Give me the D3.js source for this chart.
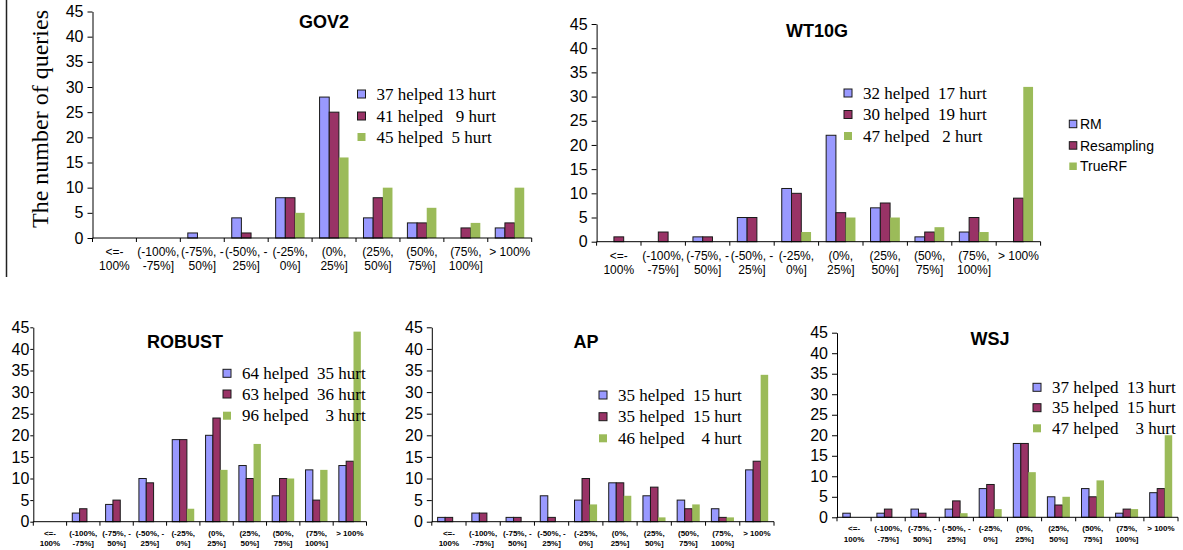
<!DOCTYPE html>
<html>
<head>
  <meta charset="UTF-8">
  <style>
    body {
      margin: 0;
      padding: 0;
      background-color: #ffffff;
      font-family: Arial, "Liberation Sans", sans-serif;
    }
    svg { display: block; }
    .tick text { font-family: Arial, "Liberation Sans", sans-serif; fill: #000; }
    text.serif { font-family: "Liberation Serif", "Times New Roman", serif; }
  </style>
</head>
<body>
<svg id="chart"></svg>
<script src="https://d3js.org/d3.v7.min.js"></script>
<script>
let width = 1183, height = 550;

// Data
let categories = ["<=-100%", "(-100%,-75%]", "(-75%,-50%]", "(-50%,-25%]", "(-25%,0%]",
                  "(0%,25%]", "(25%,50%]", "(50%,75%]", "(75%,100%]", "> 100%"];
let categoryLines = [["<=-", "100%"], ["(-100%,", "-75%]"], ["(-75%, -", "50%]"], ["(-50%, -", "25%]"],
                     ["(-25%,", "0%]"], ["(0%,", "25%]"], ["(25%,", "50%]"], ["(50%,", "75%]"],
                     ["(75%,", "100%]"], ["> 100%", ""]];
let seriesNames = ["RM", "Resampling", "TrueRF"];
let yTicks = [0, 5, 10, 15, 20, 25, 30, 35, 40, 45];

let gov2RM     = [0, 0, 1, 4, 8, 28, 4, 3, 0, 2];
let gov2Res    = [0, 0, 0, 1, 8, 25, 8, 3, 2, 3];
let gov2True   = [0, 0, 0, 0, 5, 16, 10, 6, 3, 10];
let gov2Legend = ["37 helped 13 hurt", "41 helped   9 hurt", "45 helped  5 hurt"];

let wt10gRM     = [0, 0, 1, 5, 11, 22, 7, 1, 2, 0];
let wt10gRes    = [1, 2, 1, 5, 10, 6, 8, 2, 5, 9];
let wt10gTrue   = [0, 0, 0, 0, 2, 5, 5, 3, 2, 32];
let wt10gLegend = ["32 helped  17 hurt", "30 helped  19 hurt", "47 helped   2 hurt"];

let robustRM     = [0, 2, 4, 10, 19, 20, 13, 6, 12, 13];
let robustRes    = [0, 3, 5, 9, 19, 24, 10, 10, 5, 14];
let robustTrue   = [0, 0, 0, 0, 3, 12, 18, 10, 12, 44];
let robustLegend = ["64 helped  35 hurt", "63 helped  36 hurt", "96 helped    3 hurt"];

let apRM     = [1, 2, 1, 6, 5, 9, 6, 5, 3, 12];
let apRes    = [1, 2, 1, 1, 10, 9, 8, 3, 1, 14];
let apTrue   = [0, 0, 0, 0, 4, 6, 1, 4, 1, 34];
let apLegend = ["35 helped  15 hurt", "35 helped  15 hurt", "46 helped    4 hurt"];

let wsjRM     = [1, 1, 2, 2, 7, 18, 5, 7, 1, 6];
let wsjRes    = [0, 2, 1, 4, 8, 18, 3, 5, 2, 7];
let wsjTrue   = [0, 0, 0, 1, 2, 11, 5, 9, 2, 20];
let wsjLegend = ["37 helped  13 hurt", "35 helped  15 hurt", "47 helped    3 hurt"];

let colors = ["#9999ff", "#993366", "#9bbb59"];
let strokes = ["#1a1a1a", "#1a1a1a", "none"];

// Panel layout
let panels = [
  { title: "GOV2", series: [gov2RM, gov2Res, gov2True], legend: gov2Legend,
    x0: 92.5, x1: 531.7, y0: 238, y45: 11.5, tx: 324, ty: 28,
    lx: 357.5, ly: [94, 116, 137], big: true },
  { title: "WT10G", series: [wt10gRM, wt10gRes, wt10gTrue], legend: wt10gLegend,
    x0: 596.6, x1: 1040.6, y0: 241.7, y45: 24, tx: 817, ty: 36.5,
    lx: 844, ly: [93, 114.5, 136], big: true },
  { title: "ROBUST", series: [robustRM, robustRes, robustTrue], legend: robustLegend,
    x0: 33.3, x1: 366.5, y0: 521.7, y45: 327.3, tx: 185, ty: 348,
    lx: 223, ly: [373.3, 394, 415.7], big: false, tickSize: 3, tickPad: 1 },
  { title: "AP", series: [apRM, apRes, apTrue], legend: apLegend,
    x0: 431.8, x1: 774, y0: 521.7, y45: 327.3, tx: 586, ty: 348,
    lx: 599, ly: [395, 416.7, 438.3], big: false },
  { title: "WSJ", series: [wsjRM, wsjRes, wsjTrue], legend: wsjLegend,
    x0: 837, x1: 1178, y0: 517.3, y45: 332.7, tx: 990, ty: 345,
    lx: 1033, ly: [387.3, 407.7, 428.3], big: false }
];

let svg = d3.select("#chart")
    .attr("width", width)
    .attr("height", height);

svg.append("rect").attr("width", width).attr("height", height).attr("fill", "#fff");

// left border line and y label of the first panel
svg.append("line")
    .attr("x1", 6.5).attr("x2", 6.5)
    .attr("y1", 0).attr("y2", 277)
    .attr("stroke", "#222").attr("stroke-width", 1.5);

svg.append("text")
    .attr("class", "serif")
    .attr("transform", "translate(48,119) rotate(-90)")
    .attr("text-anchor", "middle")
    .style("font-size", "24px")
    .text("The number of queries");

panels.forEach(p => {
    let g = svg.append("g");

    let x = d3.scaleBand()
        .domain(categories)
        .range([p.x0, p.x1])
        .paddingInner(0.34)
        .paddingOuter(0.17);
    let xs = d3.scaleBand()
        .domain(seriesNames)
        .range([0, x.bandwidth()]);
    let y = d3.scaleLinear()
        .domain([0, 45])
        .range([p.y0, p.y45]);
    let step = x.step();

    // bars
    seriesNames.forEach((s, si) => {
        g.append("g")
            .selectAll("rect")
            .data(p.series[si].map((v, i) => ({ v: v, c: categories[i] })).filter(d => d.v > 0))
            .enter()
            .append("rect")
            .attr("x", d => x(d.c) + xs(s))
            .attr("y", d => y(d.v))
            .attr("width", xs.bandwidth())
            .attr("height", d => p.y0 - y(d.v))
            .attr("fill", colors[si])
            .attr("stroke", strokes[si])
            .attr("stroke-width", 1);
    });

    // y axis
    let yAxis = d3.axisLeft(y)
        .tickValues(yTicks)
        .tickSize(p.tickSize || 5)
        .tickPadding(p.tickPad || 4)
        .tickSizeOuter(0);
    let ya = g.append("g")
        .attr("transform", "translate(" + p.x0 + ",0)")
        .call(yAxis);
    ya.selectAll("path, line").attr("stroke", "#000");
    ya.selectAll("text").style("font-size", "16px");

    // x axis line with category boundary ticks
    g.append("line")
        .attr("x1", p.x0).attr("x2", p.x1)
        .attr("y1", p.y0).attr("y2", p.y0)
        .attr("stroke", "#000");
    let bounds = categories.map(c => x(c) - step * 0.17).concat([p.x1]);
    g.selectAll(".xtick")
        .data(bounds)
        .enter()
        .append("line")
        .attr("x1", d => d).attr("x2", d => d)
        .attr("y1", p.y0).attr("y2", p.y0 + 4)
        .attr("stroke", "#000");

    // category labels
    let fs = p.big ? 12 : 8;
    let l1 = p.big ? 18.3 : 14;
    let l2 = p.big ? 32.3 : 24.5;
    categoryLines.forEach((lines, i) => {
        let cx = x(categories[i]) + x.bandwidth() / 2;
        lines.forEach((t, li) => {
            g.append("text")
                .attr("x", cx)
                .attr("y", p.y0 + (li === 0 ? l1 : l2))
                .attr("text-anchor", "middle")
                .style("font-size", fs + "px")
                .style("font-weight", p.big ? "normal" : "bold")
                .text(t);
        });
    });

    // title
    g.append("text")
        .attr("x", p.tx).attr("y", p.ty)
        .attr("text-anchor", "middle")
        .style("font-size", "18px")
        .style("font-weight", "bold")
        .text(p.title);

    // helped / hurt legend
    p.legend.forEach((t, i) => {
        g.append("rect")
            .attr("x", p.lx).attr("y", p.ly[i] - 4)
            .attr("width", 8).attr("height", 8)
            .attr("fill", colors[i])
            .attr("stroke", strokes[i]);
        g.append("text")
            .attr("class", "serif")
            .attr("x", p.lx + 19)
            .attr("y", p.ly[i] + 5.6)
            .style("font-size", "17px")
            .text(t.replace(/ /g, "\u00a0"));
    });
});

// series legend on the right
let legendRows = [124, 145.5, 166.3];
seriesNames.forEach((s, i) => {
    svg.append("rect")
        .attr("x", 1069.3).attr("y", legendRows[i] - 3.8)
        .attr("width", 7.5).attr("height", 7.5)
        .attr("fill", colors[i])
        .attr("stroke", strokes[i]);
    svg.append("text")
        .attr("x", 1080).attr("y", legendRows[i] + 5)
        .style("font-size", "14px")
        .text(s);
});
</script>
</body>
</html>
